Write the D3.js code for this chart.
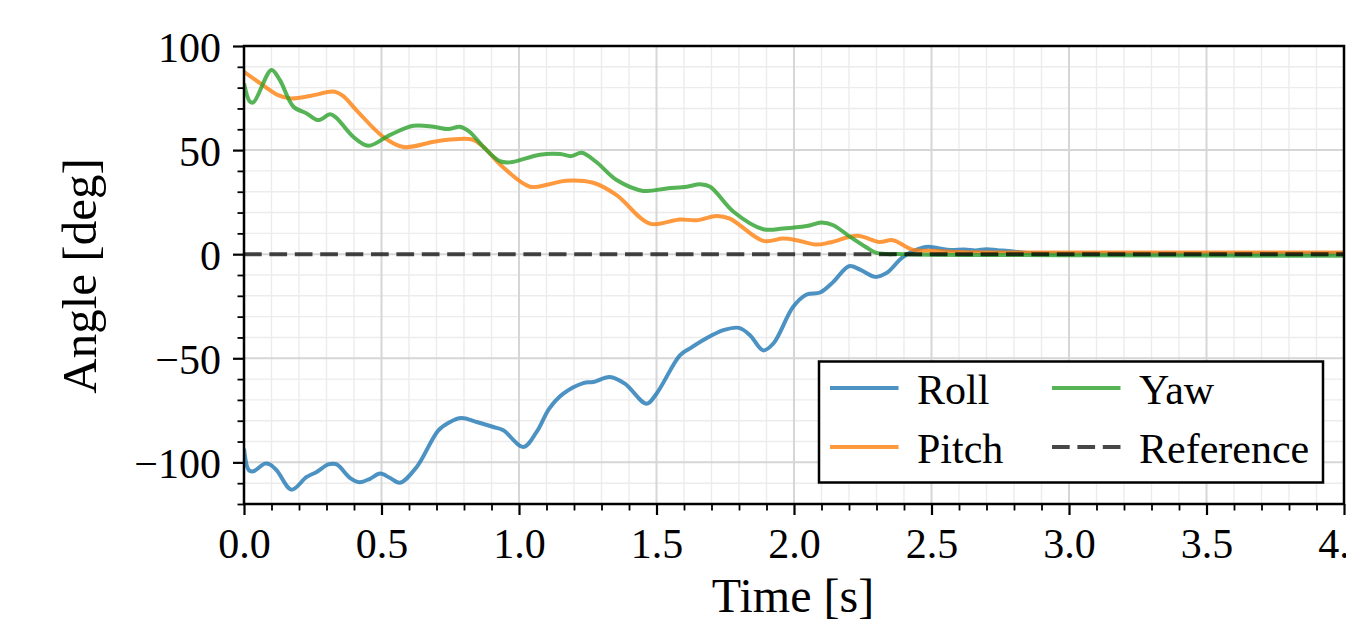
<!DOCTYPE html>
<html>
<head>
<meta charset="utf-8">
<script src="https://cdn.jsdelivr.net/npm/d3@7"></script>
<style>
  html, body { margin: 0; padding: 0; background: #fff; }
  svg { display: block; }
  text { font-family: "Liberation Serif", "DejaVu Serif", serif; fill: #000; }
</style>
</head>
<body>
<svg id="chart" width="1346" height="624"></svg>
<script>
// ---------------- data ----------------
const rollTime = [0, 0.018, 0.034, 0.076, 0.094, 0.119, 0.173, 0.228, 0.264, 0.307, 0.337, 0.385, 0.42, 0.458, 0.495, 0.53, 0.567, 0.628, 0.707, 0.749, 0.79, 0.846, 0.907, 0.943, 1.016, 1.064, 1.11, 1.161, 1.234, 1.27, 1.33, 1.385, 1.464, 1.5, 1.585, 1.62, 1.68, 1.743, 1.8, 1.84, 1.888, 1.925, 1.997, 2.046, 2.095, 2.143, 2.2, 2.24, 2.295, 2.337, 2.397, 2.47, 2.495, 2.53, 2.57, 2.62, 2.66, 2.7, 2.74, 2.78, 2.85, 3.0, 4.0];
const rollDeg = [-93.4, -103.8, -104.3, -100.6, -101, -103.8, -113.1, -107, -104.6, -101, -101, -107.4, -109.5, -107.9, -105.4, -107.4, -109.8, -102.2, -84.6, -80.6, -78.7, -80.6, -83, -84.6, -92.6, -85.4, -74.2, -67, -61.9, -61.4, -59, -62.2, -71.8, -67, -48.6, -45.4, -40.5, -36.5, -35.4, -38.9, -46.2, -42.9, -25.3, -19.4, -18.4, -13.3, -5.8, -7.4, -10.9, -9, -1.3, 3.2, 3.5, 2.7, 2.0, 2.3, 1.8, 2.4, 1.9, 1.5, 0.6, 0.3, 0.3];

const pitchTime = [0, 0.06, 0.124, 0.17, 0.24, 0.31, 0.33, 0.36, 0.41, 0.506, 0.58, 0.69, 0.75, 0.83, 0.87, 0.94, 1.04, 1.11, 1.17, 1.27, 1.355, 1.476, 1.585, 1.646, 1.719, 1.767, 1.888, 1.96, 2.01, 2.08, 2.13, 2.23, 2.31, 2.36, 2.43, 2.51, 2.6, 3.0, 4.0];
const pitchDeg = [87.6, 82, 76.4, 74.8, 76, 78, 78, 76, 69, 56.4, 51.5, 54, 55.1, 55.1, 51.6, 42, 32.4, 33.6, 35.3, 34.3, 28.4, 14.7, 16.7, 16.3, 18.4, 17.1, 6.4, 7.5, 6.7, 4.6, 5.6, 8.8, 5.9, 6.7, 2.2, 1.6, 1.0, 0.8, 0.8];

const yawTime = [0, 0.022, 0.035, 0.1, 0.13, 0.18, 0.228, 0.27, 0.313, 0.335, 0.397, 0.452, 0.53, 0.616, 0.69, 0.743, 0.785, 0.82, 0.87, 0.93, 0.967, 1.076, 1.15, 1.19, 1.228, 1.28, 1.355, 1.452, 1.537, 1.61, 1.658, 1.695, 1.78, 1.888, 1.96, 2.046, 2.1, 2.143, 2.2, 2.264, 2.3, 2.4, 3.0, 4.0];
const yawDeg = [82, 73.2, 73, 88.5, 83.7, 70.8, 67.6, 64.4, 67.2, 65.6, 56.4, 52.1, 57.2, 61.7, 61.2, 60.1, 61.2, 58.8, 51.6, 44.7, 44.1, 47.8, 48.1, 47.1, 48.7, 44.4, 35.6, 30.4, 31.6, 32.4, 33.6, 32.4, 20.4, 12, 12.3, 13.5, 15.2, 13.9, 8.7, 3.2, 0.6, 0, -0.5, -0.8];

const referenceTime = [0, 4];
const referenceDeg = [0, 0];

const seriesNames = ["Roll", "Pitch", "Yaw", "Reference"];
const seriesColors = ["#1f77b4", "#ff7f0e", "#2ca02c", "#000000"];

const xMajorTicks = [0, 0.5, 1.0, 1.5, 2.0, 2.5, 3.0, 3.5, 4.0];
const yMajorTicks = [-100, -50, 0, 50, 100];
const xDomain = [0, 4];
const yDomain = [-120, 100];

// ---------------- layout ----------------
const svg = d3.select("#chart");
const L = 244, R = 1344, T = 46, B = 504;
const x = d3.scaleLinear().domain(xDomain).range([L, R]);
const y = d3.scaleLinear().domain(yDomain).range([B, T]);

const xMinorTicks = d3.range(0, 40.5, 1).map(d => d / 10).filter(d => !xMajorTicks.some(m => Math.abs(m - d) < 1e-9));
const yMinorTicks = d3.range(-120, 101, 10).filter(d => !yMajorTicks.includes(d));

svg.append("rect").attr("width", 1346).attr("height", 624).attr("fill", "#fff");

// grid
const grid = svg.append("g");
grid.selectAll(".gxm").data(xMinorTicks).join("line")
  .attr("x1", d => x(d)).attr("x2", d => x(d)).attr("y1", T).attr("y2", B)
  .attr("stroke", "#ececec").attr("stroke-width", 1.4);
grid.selectAll(".gym").data(yMinorTicks).join("line")
  .attr("y1", d => y(d)).attr("y2", d => y(d)).attr("x1", L).attr("x2", R)
  .attr("stroke", "#ececec").attr("stroke-width", 1.4);
grid.selectAll(".gxM").data(xMajorTicks).join("line")
  .attr("x1", d => x(d)).attr("x2", d => x(d)).attr("y1", T).attr("y2", B)
  .attr("stroke", "#d6d6d6").attr("stroke-width", 2);
grid.selectAll(".gyM").data(yMajorTicks).join("line")
  .attr("y1", d => y(d)).attr("y2", d => y(d)).attr("x1", L).attr("x2", R)
  .attr("stroke", "#d6d6d6").attr("stroke-width", 2);

// clip
svg.append("clipPath").attr("id", "plotclip").append("rect")
  .attr("x", L).attr("y", T).attr("width", R - L).attr("height", B - T);

const line = d3.line().x(d => x(d[0])).y(d => y(d[1])).curve(d3.curveCatmullRom.alpha(0.5));
const zip = (a, b) => a.map((t, i) => [t, b[i]]);

const dataG = svg.append("g").attr("clip-path", "url(#plotclip)");
const curves = [
  zip(rollTime, rollDeg),
  zip(pitchTime, pitchDeg),
  zip(yawTime, yawDeg)
];
curves.forEach((c, i) => {
  dataG.append("path").datum(c).attr("d", line)
    .attr("fill", "none").attr("stroke", seriesColors[i])
    .attr("stroke-opacity", 0.8).attr("stroke-width", 4)
    .attr("stroke-linejoin", "round").attr("stroke-linecap", "butt");
});
dataG.append("path").datum(zip(referenceTime, referenceDeg))
  .attr("d", d3.line().x(d => x(d[0])).y(d => y(d[1])))
  .attr("fill", "none").attr("stroke", seriesColors[3]).attr("stroke-opacity", 0.72)
  .attr("stroke-width", 4).attr("stroke-dasharray", "17.7,7.7");

// axes
const fmtY = d => d < 0 ? "\u2212" + Math.abs(d) : String(d);
const fmtX = d3.format(".1f");

const xAxisMinor = d3.axisBottom(x).tickValues(xMinorTicks).tickSize(6.5).tickFormat("");
const xAxisMajor = d3.axisBottom(x).tickValues(xMajorTicks).tickSize(11).tickPadding(10).tickFormat(fmtX);
const yAxisMinor = d3.axisLeft(y).tickValues(yMinorTicks).tickSize(6.5).tickFormat("");
const yAxisMajor = d3.axisLeft(y).tickValues(yMajorTicks).tickSize(11).tickPadding(12).tickFormat(fmtY);

function styleAxis(g) {
  g.select(".domain").remove();
  g.selectAll(".tick line").attr("stroke", "#000").attr("stroke-width", 2.2);
  g.selectAll(".tick text").attr("font-family", "Liberation Serif, serif").attr("font-size", 42).attr("fill", "#000");
}
svg.append("g").attr("transform", `translate(0,${B})`).call(xAxisMinor).call(styleAxis)
  .selectAll(".tick line").attr("stroke-width", 1.8);
const xg = svg.append("g").attr("transform", `translate(0,${B})`).call(xAxisMajor).call(styleAxis);
xg.selectAll(".tick text").attr("dy", null).attr("y", 54);
svg.append("g").attr("transform", `translate(${L},0)`).call(yAxisMinor).call(styleAxis)
  .selectAll(".tick line").attr("stroke-width", 1.8);
const yg = svg.append("g").attr("transform", `translate(${L},0)`).call(yAxisMajor).call(styleAxis);
yg.selectAll(".tick text").attr("dy", null).attr("y", 15).attr("x", -23);

// spines
svg.append("rect").attr("x", L).attr("y", T).attr("width", R - L).attr("height", B - T)
  .attr("fill", "none").attr("stroke", "#000").attr("stroke-width", 2.5);

// axis labels
svg.append("text").attr("x", 793).attr("y", 612).attr("text-anchor", "middle")
  .attr("font-size", 48).text("Time [s]");
svg.append("text").attr("transform", "translate(96,276) rotate(-90)").attr("text-anchor", "middle")
  .attr("font-size", 49).text("Angle [deg]");

// legend
const lg = svg.append("g");
lg.append("rect").attr("x", 819).attr("y", 361.5).attr("width", 504).attr("height", 121)
  .attr("fill", "#fff").attr("stroke", "#000").attr("stroke-width", 2.5);
const legendPos = [
  { lx: 830, tx: 917, ly: 388 },
  { lx: 830, tx: 917, ly: 447 },
  { lx: 1052, tx: 1139, ly: 388 },
  { lx: 1052, tx: 1139, ly: 447 }
];
seriesNames.forEach((name, i) => {
  const p = legendPos[i];
  const ln = lg.append("line").attr("x1", p.lx).attr("x2", p.lx + 68.5).attr("y1", p.ly).attr("y2", p.ly)
    .attr("stroke", seriesColors[i]).attr("stroke-width", 4)
    .attr("stroke-opacity", i === 3 ? 0.72 : 0.8);
  if (i === 3) ln.attr("stroke-dasharray", "17.7,7.7");
  lg.append("text").attr("x", p.tx).attr("y", p.ly + 16).attr("font-size", 42).text(name);
});
</script>
</body>
</html>
